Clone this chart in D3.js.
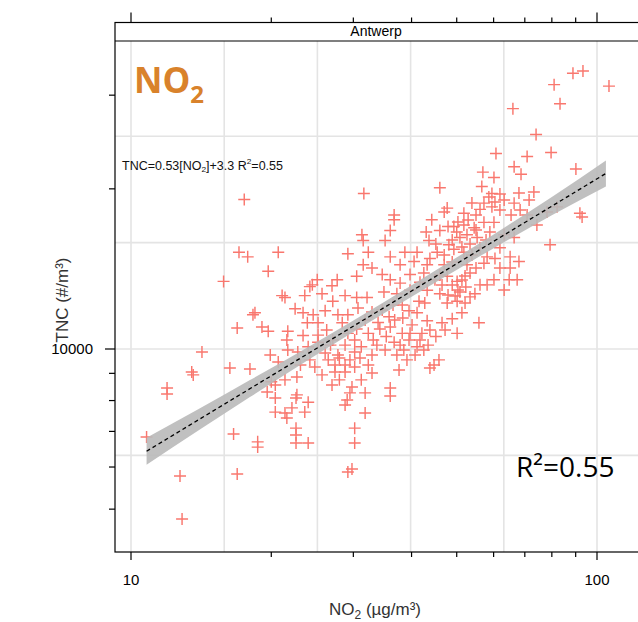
<!DOCTYPE html>
<html>
<head>
<meta charset="utf-8">
<script src="https://cdn.jsdelivr.net/npm/d3@7"></script>
<style>
  body { margin: 0; background: #fff; }
  svg { display: block; }
</style>
</head>
<body>
<div id="chart"></div>
<script>
// Scatter values: NO2 (µg/m³) and TNC (#/m³)
const no2 = [17.5, 31.6, 88.8, 93.3, 80.9, 106.1, 83.3, 66.0, 74.0, 60.7, 70.8, 79.7, 90.1, 66.4, 68.7, 56.9, 60.1, 46.0, 56.6, 59.5,
  61.9, 60.4, 73.2, 68.0, 71.5, 66.4, 57.2, 47.7, 47.0, 51.8, 56.1, 59.5, 82.1, 91.9, 78.1, 36.7, 17.05, 17.8, 20.7, 19.7,
  15.8, 31.3, 31.5, 29.2, 32.3, 31.5, 32.9, 30.5, 27.7, 25.1, 24.5, 24.2, 27.0, 25.7, 23.6, 21.1, 21.4, 28.8, 30.5, 32.1,
  27.1, 22.5, 23.4, 24.6, 26.1, 27.8, 29.2, 18.45, 18.27, 25.2, 23.9, 28.4, 19.1, 16.9, 19.7, 21.7, 21.6, 23.4, 25.2, 27.1,
  29.2, 30.5, 32.3, 24.0, 22.8, 26.1, 27.8, 30.2, 31.2, 33.1, 14.2, 19.9, 20.7, 26.5, 27.4, 28.8, 30.2, 16.3, 18.0, 24.8,
  13.5, 13.6, 22.7, 21.4, 20.4, 27.0, 29.8, 31.2, 11.95, 32.9, 36.7, 36.0, 35.1, 44.2, 46.0, 49.3, 51.8, 54.5, 57.2, 60.1,
  52.6, 50.8, 55.3, 48.1, 43.6, 63.2, 66.4, 74.3, 79.3, 61.9, 49.3, 51.8, 36.0, 38.7, 41.1, 45.4, 58.1, 60.4, 65.1, 68.0,
  37.8, 40.5, 43.2, 47.0, 52.6, 57.2, 65.1, 34.6, 36.0, 37.8, 39.7, 42.5, 44.9, 47.7, 50.1, 53.4, 56.1, 60.1, 64.8, 67.4,
  34.9, 37.2, 39.7, 43.2, 46.0, 50.8, 54.7, 58.1, 38.2, 41.5, 42.7, 47.7, 50.1, 52.1, 35.8, 39.5, 41.1, 43.2, 46.5, 48.9,
  51.3, 55.8, 34.2, 36.0, 38.2, 39.7, 42.1, 50.1, 36.7, 39.5, 41.1, 42.5, 37.2, 39.1, 40.7, 45.8, 44.7, 43.8, 37.6, 36.0,
  33.7, 92.9, 11.95, 10.8, 12.74, 12.87, 16.6, 16.9, 18.7, 18.7, 20.4, 21.4, 21.6, 20.4, 19.6, 22.6, 24.0, 23.6, 22.6, 22.6,
  22.6, 24.0, 22.15, 22.7, 28.8, 29.1, 29.5, 31.8, 31.8, 30.2, 30.2, 29.2, 29.8, 36.0, 20.0,
  47.9, 50.0, 53.4, 55.0, 48.9, 51.3, 47.0, 53.9, 57.8, 58.9, 50.3, 52.9, 56.1, 45.1, 43.0,
  48.9, 50.3, 51.3, 49.6, 52.3, 47.9, 53.4, 46.5,
  34.6, 36.8, 38.3, 35.3, 37.8, 40.1, 41.7, 43.8, 35.1, 38.5, 33.9, 36.5, 43.4, 45.1, 47.2,
  28.0, 28.8, 27.4, 29.5, 31.0, 32.3, 32.9, 26.8, 28.8, 30.2, 31.8, 32.9, 30.7, 26.3, 25.2, 25.7, 28.0, 24.2, 23.1, 21.7,
  58.6, 61.9, 63.2, 53.9, 68.4, 70.8, 65.4, 55.0,
  43.8, 48.9, 55.0, 46.0, 41.7, 52.1, 61.9, 63.2];
const tnc = [19100, 19600, 33000, 33300, 31400, 31200, 28900, 28300, 25300, 23300, 23000, 23400, 21800, 22000, 21300, 21500, 21000, 20100, 20200, 19600,
  19560, 18900, 19730, 19640, 19060, 18800, 18800, 18400, 18100, 18000, 18300, 18500, 18500, 18000, 18100, 17860, 15200, 14900, 15200, 14000,
  13400, 16400, 16000, 15100, 15200, 14400, 14200, 13700, 13500, 13500, 13200, 13100, 13150, 12700, 12600, 12600, 12500, 12600, 12500, 12500,
  12300, 11900, 11700, 11600, 11800, 11600, 11600, 11700, 11600, 11200, 11200, 11200, 11000, 10950, 10800, 10800, 10400, 10600, 10300, 10400,
  10700, 10900, 10700, 10100, 9870, 9830, 9740, 9870, 10100, 10400, 9870, 9740, 9450, 9540, 9330, 9330, 9250, 9210, 9170, 9250,
  9050, 8940, 8860, 8750, 8560, 8560, 8480, 8750, 8450, 9010, 17500, 16700, 16000, 17500, 16700, 17000, 17100, 16900, 17300, 17300,
  16400, 16200, 16200, 15700, 16000, 16400, 16200, 17100, 15700, 15500, 15400, 15200, 14900, 15200, 15200, 15200, 14900, 14800, 14900, 14600,
  14400, 14600, 14400, 14400, 14400, 14500, 14200, 13800, 13500, 13300, 13800, 13900, 13500, 13700, 13400, 13900, 13200, 13500, 13500, 13500,
  12800, 12700, 12900, 12900, 12700, 12800, 12700, 13200, 12100, 12300, 12200, 12200, 12300, 12200, 11500, 11800, 11700, 11300, 11200, 11400,
  11700, 11200, 10900, 11000, 10700, 10700, 10700, 10700, 10300, 10400, 10100, 9960, 9740, 9540, 9740, 9540, 9330, 9210, 9130, 8450,
  10170, 17700, 8230, 6830, 5770, 4790, 6920, 5820, 6690, 6540, 7610, 7580, 7420, 8090, 8300, 8090, 7940, 7610, 7100, 6890,
  6660, 6660, 7750, 8200, 7850, 8020, 8270, 8270, 7580, 7100, 6660, 5870, 5950, 8160, 8680,
  17000, 16590, 15750, 16740, 16030, 15550, 15020, 15020, 16030, 16590, 17330, 17480, 15490, 15750, 16590,
  13190, 12910, 13480, 12580, 13080, 12630, 12530, 13190,
  11840, 11340, 11440, 10560, 10170, 11100, 10400, 10860, 9960, 9960, 11220, 12100, 10170, 10560, 10860,
  9620, 9050, 9050, 9540, 9620, 9330, 9740, 10170, 10170, 10400, 11340, 11740, 11940, 10860, 10620, 8940, 8750, 9540, 9330, 9960,
  19300, 18250, 19060, 18810, 18250, 17860, 17860, 17860,
  14800, 14570, 14200, 13770, 13350, 13710, 14200, 12910];

// Fitted line and its confidence band
const fitNO2 = [10.8, 104.5];
const fitTNC = [6425, 21380];
const bandNO2 = [10.8, 14, 18, 25, 35, 45, 60, 80, 104.5];
const bandLow = [6060, 7040, 8120, 9750, 11690, 13340, 15470, 17850, 20210];
const bandHigh = [6810, 7720, 8740, 10300, 12270, 14040, 16420, 19300, 22620];

// Axis ticks and grid
const xTicks = [10, 20, 30, 40, 50, 60, 70, 80, 90, 100];
const xLabels = [10, 100];
const yTicks = [5000, 6000, 7000, 8000, 9000, 10000, 20000, 30000];
const yLabels = [10000];
const gridNO2 = [10, 15.85, 25.12, 39.81, 63.1, 100];
const gridTNC = [6310, 10000, 15849, 25119];

const W = 638, H = 622;
const panel = { left: 115, right: 640, top: 41, bottom: 552, stripTop: 22.5 };

const svg = d3.select("#chart").append("svg")
  .attr("width", W).attr("height", H)
  .attr("font-family", "'Liberation Sans', Arial, sans-serif");

const x = d3.scaleLog().domain([10, 100]).range([131, 597]);
const y = d3.scaleLog().domain([10000, 100000]).range([349, 349 - 532]);

svg.append("defs").append("clipPath").attr("id", "clip")
  .append("rect")
  .attr("x", panel.left).attr("y", panel.top)
  .attr("width", panel.right - panel.left).attr("height", panel.bottom - panel.top);

const plot = svg.append("g").attr("clip-path", "url(#clip)");

// grid
plot.selectAll(".gx").data(gridNO2).enter().append("line")
  .attr("x1", d => x(d)).attr("x2", d => x(d))
  .attr("y1", panel.top).attr("y2", panel.bottom)
  .attr("stroke", "#e4e4e4").attr("stroke-width", 1.6);
plot.selectAll(".gy").data(gridTNC).enter().append("line")
  .attr("y1", d => y(d)).attr("y2", d => y(d))
  .attr("x1", panel.left).attr("x2", panel.right)
  .attr("stroke", "#e4e4e4").attr("stroke-width", 1.6);

// points
plot.selectAll(".pt").data(no2.map((v, i) => [v, tnc[i]])).enter().append("path")
  .attr("d", d => `M${x(d[0]) - 6},${y(d[1])}h12M${x(d[0])},${y(d[1]) - 6}v12`)
  .attr("stroke", "#f9776e").attr("stroke-width", 1.45).attr("fill", "none");

// confidence band
const band = bandNO2.map((v, i) => [v, bandLow[i], bandHigh[i]]);
plot.append("path")
  .datum(band)
  .attr("d", d3.area().x(d => x(d[0])).y0(d => y(d[1])).y1(d => y(d[2])).curve(d3.curveMonotoneX))
  .attr("fill", "#b9b9b9").attr("fill-opacity", 0.9);

// fitted line
plot.append("path")
  .datum(fitNO2.map((v, i) => [v, fitTNC[i]]))
  .attr("d", d3.line().x(d => x(d[0])).y(d => y(d[1])))
  .attr("stroke", "#000").attr("stroke-width", 1.3)
  .attr("stroke-dasharray", "4,3").attr("fill", "none");

// panel frame and strip
svg.append("rect")
  .attr("x", panel.left).attr("y", panel.stripTop)
  .attr("width", panel.right - panel.left).attr("height", panel.bottom - panel.stripTop)
  .attr("fill", "none").attr("stroke", "#000").attr("stroke-width", 1.2);
svg.append("line")
  .attr("x1", panel.left).attr("x2", panel.right)
  .attr("y1", panel.top).attr("y2", panel.top)
  .attr("stroke", "#000").attr("stroke-width", 1.2);
svg.append("text")
  .attr("x", 376).attr("y", 36)
  .attr("text-anchor", "middle").attr("font-size", 14)
  .text("Antwerp");

// bottom axis
const axisBottomG = svg.append("g");
axisBottomG.selectAll("line").data(xTicks).enter().append("line")
  .attr("x1", d => x(d)).attr("x2", d => x(d))
  .attr("y1", panel.bottom)
  .attr("y2", d => panel.bottom + (xLabels.includes(d) ? 8 : 5))
  .attr("stroke", "#000").attr("stroke-width", 1.2);
axisBottomG.selectAll("text").data(xLabels).enter().append("text")
  .attr("x", d => x(d)).attr("y", 585)
  .attr("text-anchor", "middle").attr("font-size", 15)
  .text(d => d);

// top axis
const axisTopG = svg.append("g");
axisTopG.selectAll("line").data(xTicks).enter().append("line")
  .attr("x1", d => x(d)).attr("x2", d => x(d))
  .attr("y1", panel.stripTop)
  .attr("y2", d => panel.stripTop - (xLabels.includes(d) ? 10 : 5))
  .attr("stroke", "#000").attr("stroke-width", 1.2);

// left axis
const axisLeftG = svg.append("g");
axisLeftG.selectAll("line").data(yTicks).enter().append("line")
  .attr("y1", d => y(d)).attr("y2", d => y(d))
  .attr("x1", panel.left)
  .attr("x2", d => panel.left - (yLabels.includes(d) ? 10 : 6))
  .attr("stroke", "#000").attr("stroke-width", 1.2);
axisLeftG.selectAll("text").data(yLabels).enter().append("text")
  .attr("x", 93).attr("y", d => y(d) + 5)
  .attr("text-anchor", "end").attr("font-size", 15)
  .text(d => d);

// axis titles
const xt = svg.append("text")
  .attr("x", 375).attr("y", 615)
  .attr("text-anchor", "middle").attr("font-size", 17).attr("fill", "#333");
xt.append("tspan").text("NO");
xt.append("tspan").attr("font-size", 12).attr("dy", 4).text("2");
xt.append("tspan").attr("dy", -4).text(" (µg/m³)");

svg.append("text")
  .attr("transform", "translate(68,300) rotate(-90)")
  .attr("text-anchor", "middle").attr("font-size", 17).attr("fill", "#333")
  .text("TNC (#/m³)");

// in-panel labels
const big = svg.append("text")
  .attr("x", 134).attr("y", 93)
  .attr("font-family", "'Open Sans', sans-serif").attr("font-weight", "bold")
  .attr("font-size", 35).attr("fill", "#d9822b");
big.append("tspan").text("NO");
big.append("tspan").attr("font-size", 24).attr("dy", 10).text("2");

const eq = svg.append("text")
  .attr("x", 122).attr("y", 170)
  .attr("font-family", "'Liberation Sans Narrow', 'Liberation Sans', sans-serif")
  .attr("font-size", 12).attr("fill", "#111")
  .attr("textLength", 161).attr("lengthAdjust", "spacingAndGlyphs");
eq.append("tspan").text("TNC=0.53[NO");
eq.append("tspan").attr("font-size", 8).attr("dy", 2).text("2");
eq.append("tspan").attr("dy", -2).text("]+3.3 R");
eq.append("tspan").attr("font-size", 8).attr("dy", -6).text("2");
eq.append("tspan").attr("dy", 6).text("=0.55");

svg.append("text")
  .attr("x", 516).attr("y", 477)
  .attr("font-family", "'Open Sans', sans-serif")
  .attr("font-size", 28).attr("fill", "#000")
  .text("R²=0.55");
</script>
</body>
</html>
